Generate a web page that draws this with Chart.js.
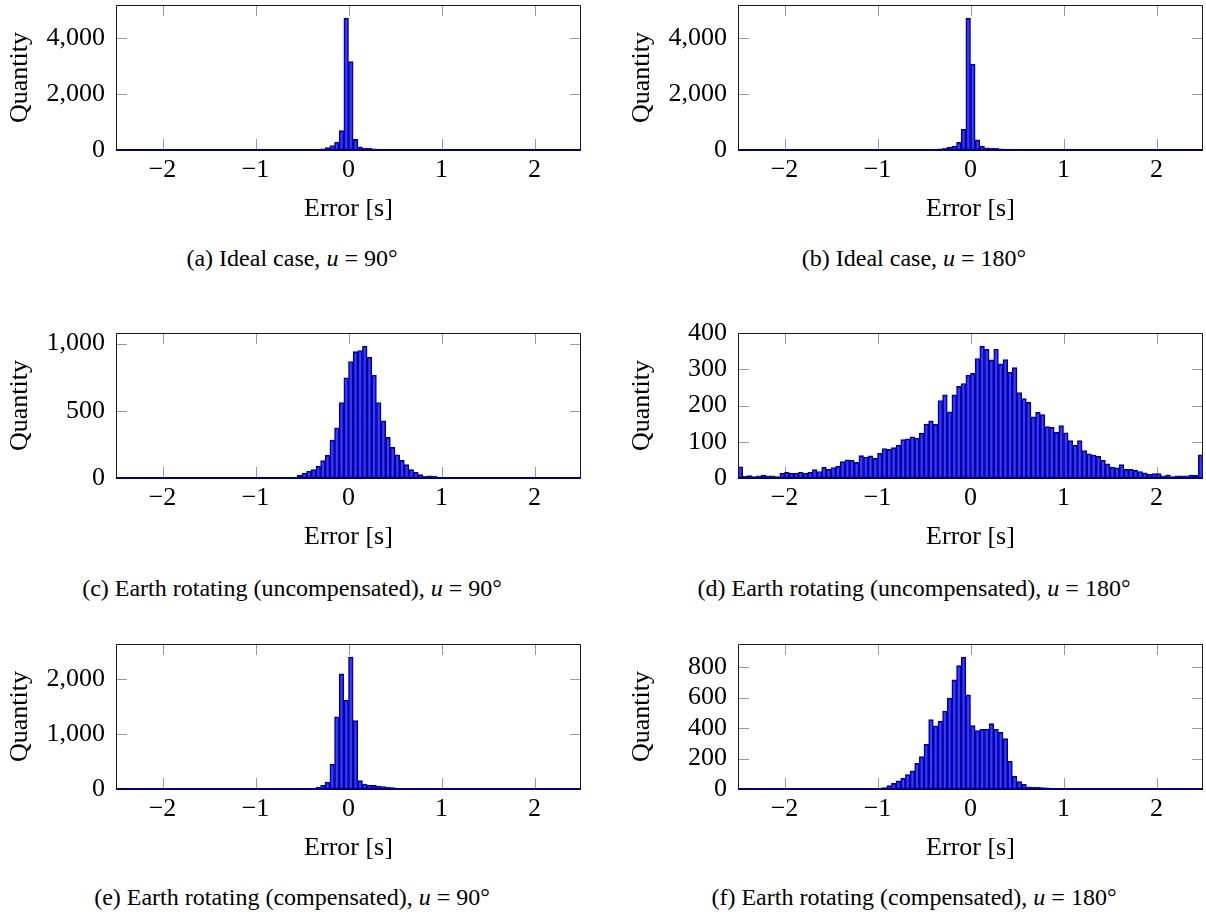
<!DOCTYPE html>
<html>
<head>
<meta charset="utf-8">
<script src="https://cdn.jsdelivr.net/npm/chart.js@4.4.1/dist/chart.umd.min.js"></script>
<style>
  body { margin: 0; background: #fff; width: 1206px; height: 916px; position: relative; overflow: hidden;
         font-family: "Liberation Serif", "Times New Roman", serif; }
  canvas { position: absolute; }
  .caption { position: absolute; width: 584px; text-align: center; font-size: 24px; line-height: 28px;
             color: #000; white-space: nowrap; }
</style>
</head>
<body>

<canvas id="histA" width="584" height="237" style="left:0;top:-12px"></canvas>
<canvas id="histB" width="584" height="237" style="left:622px;top:-12px"></canvas>
<canvas id="histC" width="584" height="237" style="left:0;top:316px"></canvas>
<canvas id="histD" width="584" height="237" style="left:622px;top:316px"></canvas>
<canvas id="histE" width="584" height="237" style="left:0;top:627px"></canvas>
<canvas id="histF" width="584" height="237" style="left:622px;top:627px"></canvas>

<div class="caption" style="left:0;top:244px">(a) Ideal case, <i>u</i> = 90°</div>
<div class="caption" style="left:622px;top:244px">(b) Ideal case, <i>u</i> = 180°</div>
<div class="caption" style="left:0;top:574px">(c) Earth rotating (uncompensated), <i>u</i> = 90°</div>
<div class="caption" style="left:622px;top:574px">(d) Earth rotating (uncompensated), <i>u</i> = 180°</div>
<div class="caption" style="left:0;top:883px">(e) Earth rotating (compensated), <i>u</i> = 90°</div>
<div class="caption" style="left:622px;top:883px">(f) Earth rotating (compensated), <i>u</i> = 180°</div>

<script>
// histogram bins: 100 bins of 0.05 s from -2.5 s to 2.5 s
const binLow = -2.5;
const binWidth = 0.05;

const xTicks = [-2, -1, 0, 1, 2];

// counts per bin, left to right
const idealU90 = [
  0, 0, 0, 0, 0, 0, 0, 0, 0, 0,
  0, 0, 0, 0, 0, 0, 0, 0, 0, 0,
  0, 0, 0, 0, 0, 0, 0, 0, 0, 0,
  0, 0, 0, 0, 0, 0, 2, 3, 4, 5,
  8, 12, 18, 28, 45, 90, 160, 280, 690, 4700,
  3150, 380, 115, 70, 60, 42, 32, 26, 20, 17,
  14, 12, 10, 8, 7, 6, 5, 4, 3, 3,
  2, 2, 0, 0, 0, 0, 0, 0, 0, 0,
  0, 0, 0, 0, 0, 0, 0, 0, 0, 0,
  0, 0, 0, 0, 0, 0, 0, 0, 0, 0
];
const idealU180 = [
  0, 0, 0, 0, 0, 0, 0, 0, 0, 0,
  0, 0, 0, 0, 0, 0, 0, 0, 0, 0,
  0, 0, 0, 0, 0, 0, 0, 0, 0, 0,
  0, 0, 0, 0, 1, 2, 3, 4, 6, 8,
  12, 18, 25, 38, 70, 105, 140, 270, 740, 4700,
  3060, 360, 140, 80, 70, 58, 45, 35, 30, 25,
  20, 17, 14, 12, 10, 8, 6, 5, 4, 3,
  2, 2, 0, 0, 0, 0, 0, 0, 0, 0,
  0, 0, 0, 0, 0, 0, 0, 0, 0, 0,
  0, 0, 0, 0, 0, 0, 0, 0, 0, 0
];
const uncompU90 = [
  0, 0, 0, 0, 0, 0, 0, 0, 0, 0,
  0, 0, 0, 0, 0, 0, 0, 0, 0, 0,
  0, 0, 0, 0, 0, 0, 0, 0, 0, 0,
  0, 1, 1, 2, 2, 3, 3, 4, 7, 20,
  37, 52, 62, 87, 129, 168, 282, 374, 562, 746,
  867, 941, 949, 981, 899, 765, 562, 426, 302, 228,
  173, 131, 99, 62, 42, 25, 12, 17, 15, 5,
  3, 3, 2, 2, 1, 2, 1, 0, 0, 0,
  0, 0, 0, 0, 0, 0, 0, 0, 0, 0,
  0, 0, 0, 0, 0, 0, 0, 0, 0, 0
];
const uncompU180 = [
  31, 5, 7, 4, 6, 8, 6, 6, 4, 13,
  16, 13, 13, 16, 13, 16, 23, 18, 30, 24,
  29, 33, 45, 50, 49, 43, 62, 58, 61, 54,
  68, 81, 79, 84, 91, 106, 108, 114, 110, 124,
  149, 158, 148, 214, 230, 183, 230, 253, 261, 284,
  289, 330, 364, 355, 326, 356, 315, 327, 292, 305,
  236, 219, 209, 169, 181, 175, 142, 140, 126, 145,
  125, 103, 90, 103, 76, 67, 63, 60, 49, 39,
  30, 28, 37, 24, 24, 21, 18, 14, 10, 12,
  12, 6, 9, 4, 6, 6, 6, 8, 8, 64
];
const compU90 = [
  0, 0, 0, 0, 0, 0, 0, 0, 0, 0,
  0, 0, 0, 0, 0, 0, 0, 0, 0, 0,
  0, 0, 0, 0, 0, 0, 0, 0, 0, 0,
  0, 0, 0, 1, 2, 2, 3, 4, 5, 7,
  10, 12, 18, 37, 67, 128, 451, 1315, 2101, 1620,
  2406, 1248, 152, 91, 73, 67, 55, 43, 37, 24,
  18, 12, 10, 8, 7, 5, 4, 3, 3, 2,
  2, 1, 0, 0, 0, 0, 0, 0, 0, 0,
  0, 0, 0, 0, 0, 0, 0, 0, 0, 0,
  0, 0, 0, 0, 0, 0, 0, 0, 0, 0
];
const compU180 = [
  0, 0, 0, 0, 0, 0, 0, 0, 0, 0,
  0, 0, 0, 0, 0, 0, 0, 0, 0, 0,
  0, 0, 0, 0, 0, 0, 1, 1, 1, 3,
  6, 9, 22, 37, 53, 70, 94, 120, 169, 212,
  293, 455, 414, 445, 512, 596, 716, 810, 865, 618,
  416, 383, 392, 394, 429, 392, 372, 331, 182, 85,
  48, 31, 15, 13, 11, 9, 7, 4, 3, 2,
  2, 1, 1, 2, 1, 0, 0, 0, 0, 0,
  0, 0, 0, 0, 0, 0, 0, 0, 0, 0,
  0, 0, 0, 0, 0, 0, 0, 0, 0, 0
];

const yTicksA = [0, 2000, 4000];
const yTicksB = [0, 2000, 4000];
const yTicksC = [0, 500, 1000];
const yTicksD = [0, 100, 200, 300, 400];
const yTicksE = [0, 1000, 2000];
const yTicksF = [0, 200, 400, 600, 800];

const serif = { family: '"Liberation Serif", "Times New Roman", serif', size: 26 };

// box around the plot area plus inward tick marks on all four sides
const axisBox = {
  id: 'axisBox',
  beforeDatasetsDraw(chart) {
    const { ctx, chartArea: a, scales } = chart;
    ctx.save();
    ctx.strokeStyle = '#9a9a9a';
    ctx.lineWidth = 1;
    ctx.beginPath();
    scales.x.ticks.forEach(t => {
      const px = Math.round(scales.x.getPixelForValue(t.value)) + 0.5;
      ctx.moveTo(px, a.top); ctx.lineTo(px, a.top + 11);
      ctx.moveTo(px, a.bottom); ctx.lineTo(px, a.bottom - 11);
    });
    scales.y.ticks.forEach(t => {
      const py = Math.round(scales.y.getPixelForValue(t.value)) + 0.5;
      ctx.moveTo(a.left, py); ctx.lineTo(a.left + 11, py);
      ctx.moveTo(a.right, py); ctx.lineTo(a.right - 11, py);
    });
    ctx.stroke();
    ctx.restore();
  },
  afterDatasetsDraw(chart) {
    const { ctx, chartArea: a } = chart;
    const l = Math.round(a.left) + 0.5, r = Math.round(a.right) - 0.5;
    const t = Math.round(a.top) + 0.5, b = Math.round(a.bottom);
    ctx.save();
    ctx.strokeStyle = '#1a1a1a';
    ctx.lineWidth = 1;
    ctx.beginPath();
    ctx.moveTo(l, b); ctx.lineTo(l, t); ctx.lineTo(r, t); ctx.lineTo(r, b);
    ctx.stroke();
    // empty bins still leave their outline along the baseline
    ctx.strokeStyle = '#00006e';
    ctx.lineWidth = 2;
    ctx.beginPath();
    ctx.moveTo(l - 0.5, b); ctx.lineTo(r + 0.5, b);
    ctx.stroke();
    ctx.restore();
  }
};

// fixed axis boxes so that every plot area lands in the same place
function fixBox(size) {
  return s => {
    if (s.isHorizontal()) s.height = size; else s.width = size;
    s.paddingTop = 0;
    s.paddingBottom = 0;
    s.paddingLeft = 0;
    s.paddingRight = 0;
  };
}

function histogram(id, counts, yTicks) {
  const points = counts.map((c, i) => ({ x: binLow + binWidth * (i + 0.5), y: c }));
  return new Chart(document.getElementById(id), {
    type: 'bar',
    data: {
      datasets: [{
        data: points,
        backgroundColor: 'rgba(0, 0, 255, 0.77)',
        borderColor: '#00006e',
        borderWidth: 1,
        borderSkipped: false,
        barPercentage: 1,
        categoryPercentage: 1
      }]
    },
    options: {
      responsive: false,
      animation: false,
      events: [],
      layout: { padding: { top: 17, right: 3, bottom: 0, left: 0 } },
      plugins: { legend: { display: false }, tooltip: { enabled: false } },
      scales: {
        x: {
          type: 'linear',
          offset: false,
          min: -2.5,
          max: 2.5,
          afterBuildTicks: s => { s.ticks = xTicks.map(v => ({ value: v })); },
          afterFit: fixBox(75),
          grid: { display: false, drawTicks: false },
          border: { display: false },
          ticks: {
            padding: 5, color: '#000', font: serif, maxRotation: 0, autoSkip: false,
            callback: v => (v < 0 ? '\u2212' + Math.abs(v) : String(v))
          },
          title: { display: true, text: 'Error [s]', color: '#000', font: serif, padding: 0 }
        },
        y: {
          min: 0,
          max: Math.max(...counts) * 1.1,
          afterBuildTicks: s => { s.ticks = yTicks.map(v => ({ value: v })); },
          afterFit: fixBox(116),
          grid: { display: false, drawTicks: false },
          border: { display: false },
          ticks: {
            padding: 11, color: '#000', font: serif, autoSkip: false,
            callback: v => v.toLocaleString('en-US')
          },
          title: { display: true, text: 'Quantity', color: '#000', font: serif, padding: { top: 5, bottom: 0 } }
        }
      }
    },
    plugins: [axisBox]
  });
}

histogram('histA', idealU90, yTicksA);
histogram('histB', idealU180, yTicksB);
histogram('histC', uncompU90, yTicksC);
histogram('histD', uncompU180, yTicksD);
histogram('histE', compU90, yTicksE);
histogram('histF', compU180, yTicksF);
</script>
</body>
</html>
